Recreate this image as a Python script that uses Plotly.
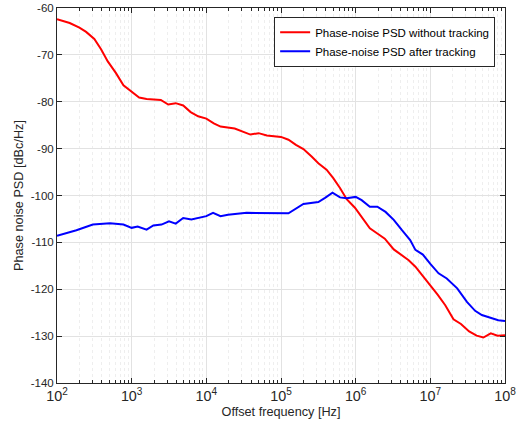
import numpy as np
import plotly.graph_objects as go

# log10(frequency) and PSD values
red_logf = [2.0, 2.17, 2.30, 2.39, 2.50, 2.59, 2.68, 2.79, 2.89, 3.0, 3.10, 3.20, 3.39, 3.49, 3.59, 3.69,
            3.79, 3.89, 4.0, 4.10, 4.19, 4.38, 4.49, 4.59, 4.70, 4.81, 5.0, 5.10, 5.20, 5.30, 5.41, 5.50,
            5.61, 5.70, 5.79, 5.88, 5.99, 6.10, 6.19, 6.29, 6.39, 6.51, 6.61, 6.71, 6.80, 6.90, 7.0, 7.10,
            7.20, 7.31, 7.41, 7.52, 7.62, 7.71, 7.81, 7.90, 8.0]
red_psd = [-62.4, -63.2, -64.2, -65.1, -66.6, -68.8, -71.4, -73.9, -76.5, -77.8, -79.1, -79.4, -79.6, -80.6,
           -80.3, -80.8, -82.2, -83.1, -83.6, -84.6, -85.3, -85.7, -86.4, -87.0, -86.7, -87.2, -87.5, -88.1,
           -89.2, -90.1, -91.7, -93.1, -94.5, -96.3, -98.4, -100.8, -102.6, -104.9, -107.0, -108.1, -109.2,
           -111.5, -112.7, -113.8, -115.2, -117.2, -119.1, -121.2, -123.4, -126.4, -127.4, -129.0, -129.9,
           -130.3, -129.4, -129.9, -129.8]

blue_logf = [2.0, 2.26, 2.48, 2.71, 2.89, 3.0, 3.08, 3.20, 3.29, 3.40, 3.50, 3.59, 3.69, 3.80, 4.0, 4.09,
             4.19, 4.29, 4.54, 4.71, 5.10, 5.30, 5.50, 5.59, 5.69, 5.79, 5.88, 6.0, 6.08, 6.19, 6.29, 6.40,
             6.51, 6.62, 6.73, 6.80, 6.90, 7.0, 7.11, 7.22, 7.36, 7.49, 7.60, 7.69, 7.80, 7.91, 8.0]
blue_psd = [-108.6, -107.4, -106.2, -105.9, -106.2, -106.9, -106.6, -107.3, -106.4, -106.2, -105.5, -106.0,
            -104.8, -105.1, -104.4, -103.7, -104.4, -104.1, -103.7, -103.7, -103.8, -101.8, -101.4, -100.5,
            -99.4, -100.4, -100.6, -100.3, -101.0, -102.4, -102.4, -103.5, -105.2, -107.4, -109.5, -111.6,
            -112.6, -114.6, -116.6, -117.7, -119.8, -122.7, -124.6, -125.5, -126.0, -126.6, -126.8]

names = ["Phase-noise PSD without tracking", "Phase-noise PSD after tracking"]
y_ticks = [-140, -130, -120, -110, -100, -90, -80, -70, -60]

fig = go.Figure()
fig.add_trace(go.Scatter(x=10 ** np.array(red_logf), y=red_psd, mode="lines", name=names[0],
                         line=dict(color="#ff0000", width=2)))
fig.add_trace(go.Scatter(x=10 ** np.array(blue_logf), y=blue_psd, mode="lines", name=names[1],
                         line=dict(color="#0000ff", width=2)))

FONT = "Liberation Sans, Arial"
axis_common = dict(
    showline=True, linecolor="#262626", linewidth=1, mirror="allticks",
    ticks="inside", ticklen=5, tickcolor="#262626",
    showgrid=True, gridcolor="#e2e2e2", gridwidth=1, zeroline=False,
    automargin=False,
    tickfont=dict(family=FONT, size=11.5, color="#262626"),
    title_font=dict(family=FONT, size=12.7, color="#262626"),
)

fig.update_xaxes(type="log", range=[2, 8], dtick=1, exponentformat="power",
                 minor=dict(ticks="inside", ticklen=3, tickcolor="#262626", showgrid=True,
                            gridcolor="#eeeeee", griddash="dot", gridwidth=1),
                 title_text="Offset frequency [Hz]", title_standoff=4, **axis_common)
fig.update_yaxes(range=[-140, -60], tickvals=y_ticks, ticktext=[str(v) for v in y_ticks],
                 title_text="Phase noise PSD [dBc/Hz]", title_standoff=4, **axis_common)

fig.update_layout(
    width=518, height=422,
    margin=dict(l=57, r=13, t=8, b=39),
    paper_bgcolor="white", plot_bgcolor="white",
    font=dict(family=FONT, size=11.5, color="#262626"),
    legend=dict(x=0.978, y=0.977, xanchor="right", yanchor="top",
                bgcolor="white", bordercolor="#262626", borderwidth=1,
                font=dict(family=FONT, size=11.5, color="black"),
                tracegroupgap=0, itemwidth=30),
    showlegend=True,
)

fig.write_html("out.html")
